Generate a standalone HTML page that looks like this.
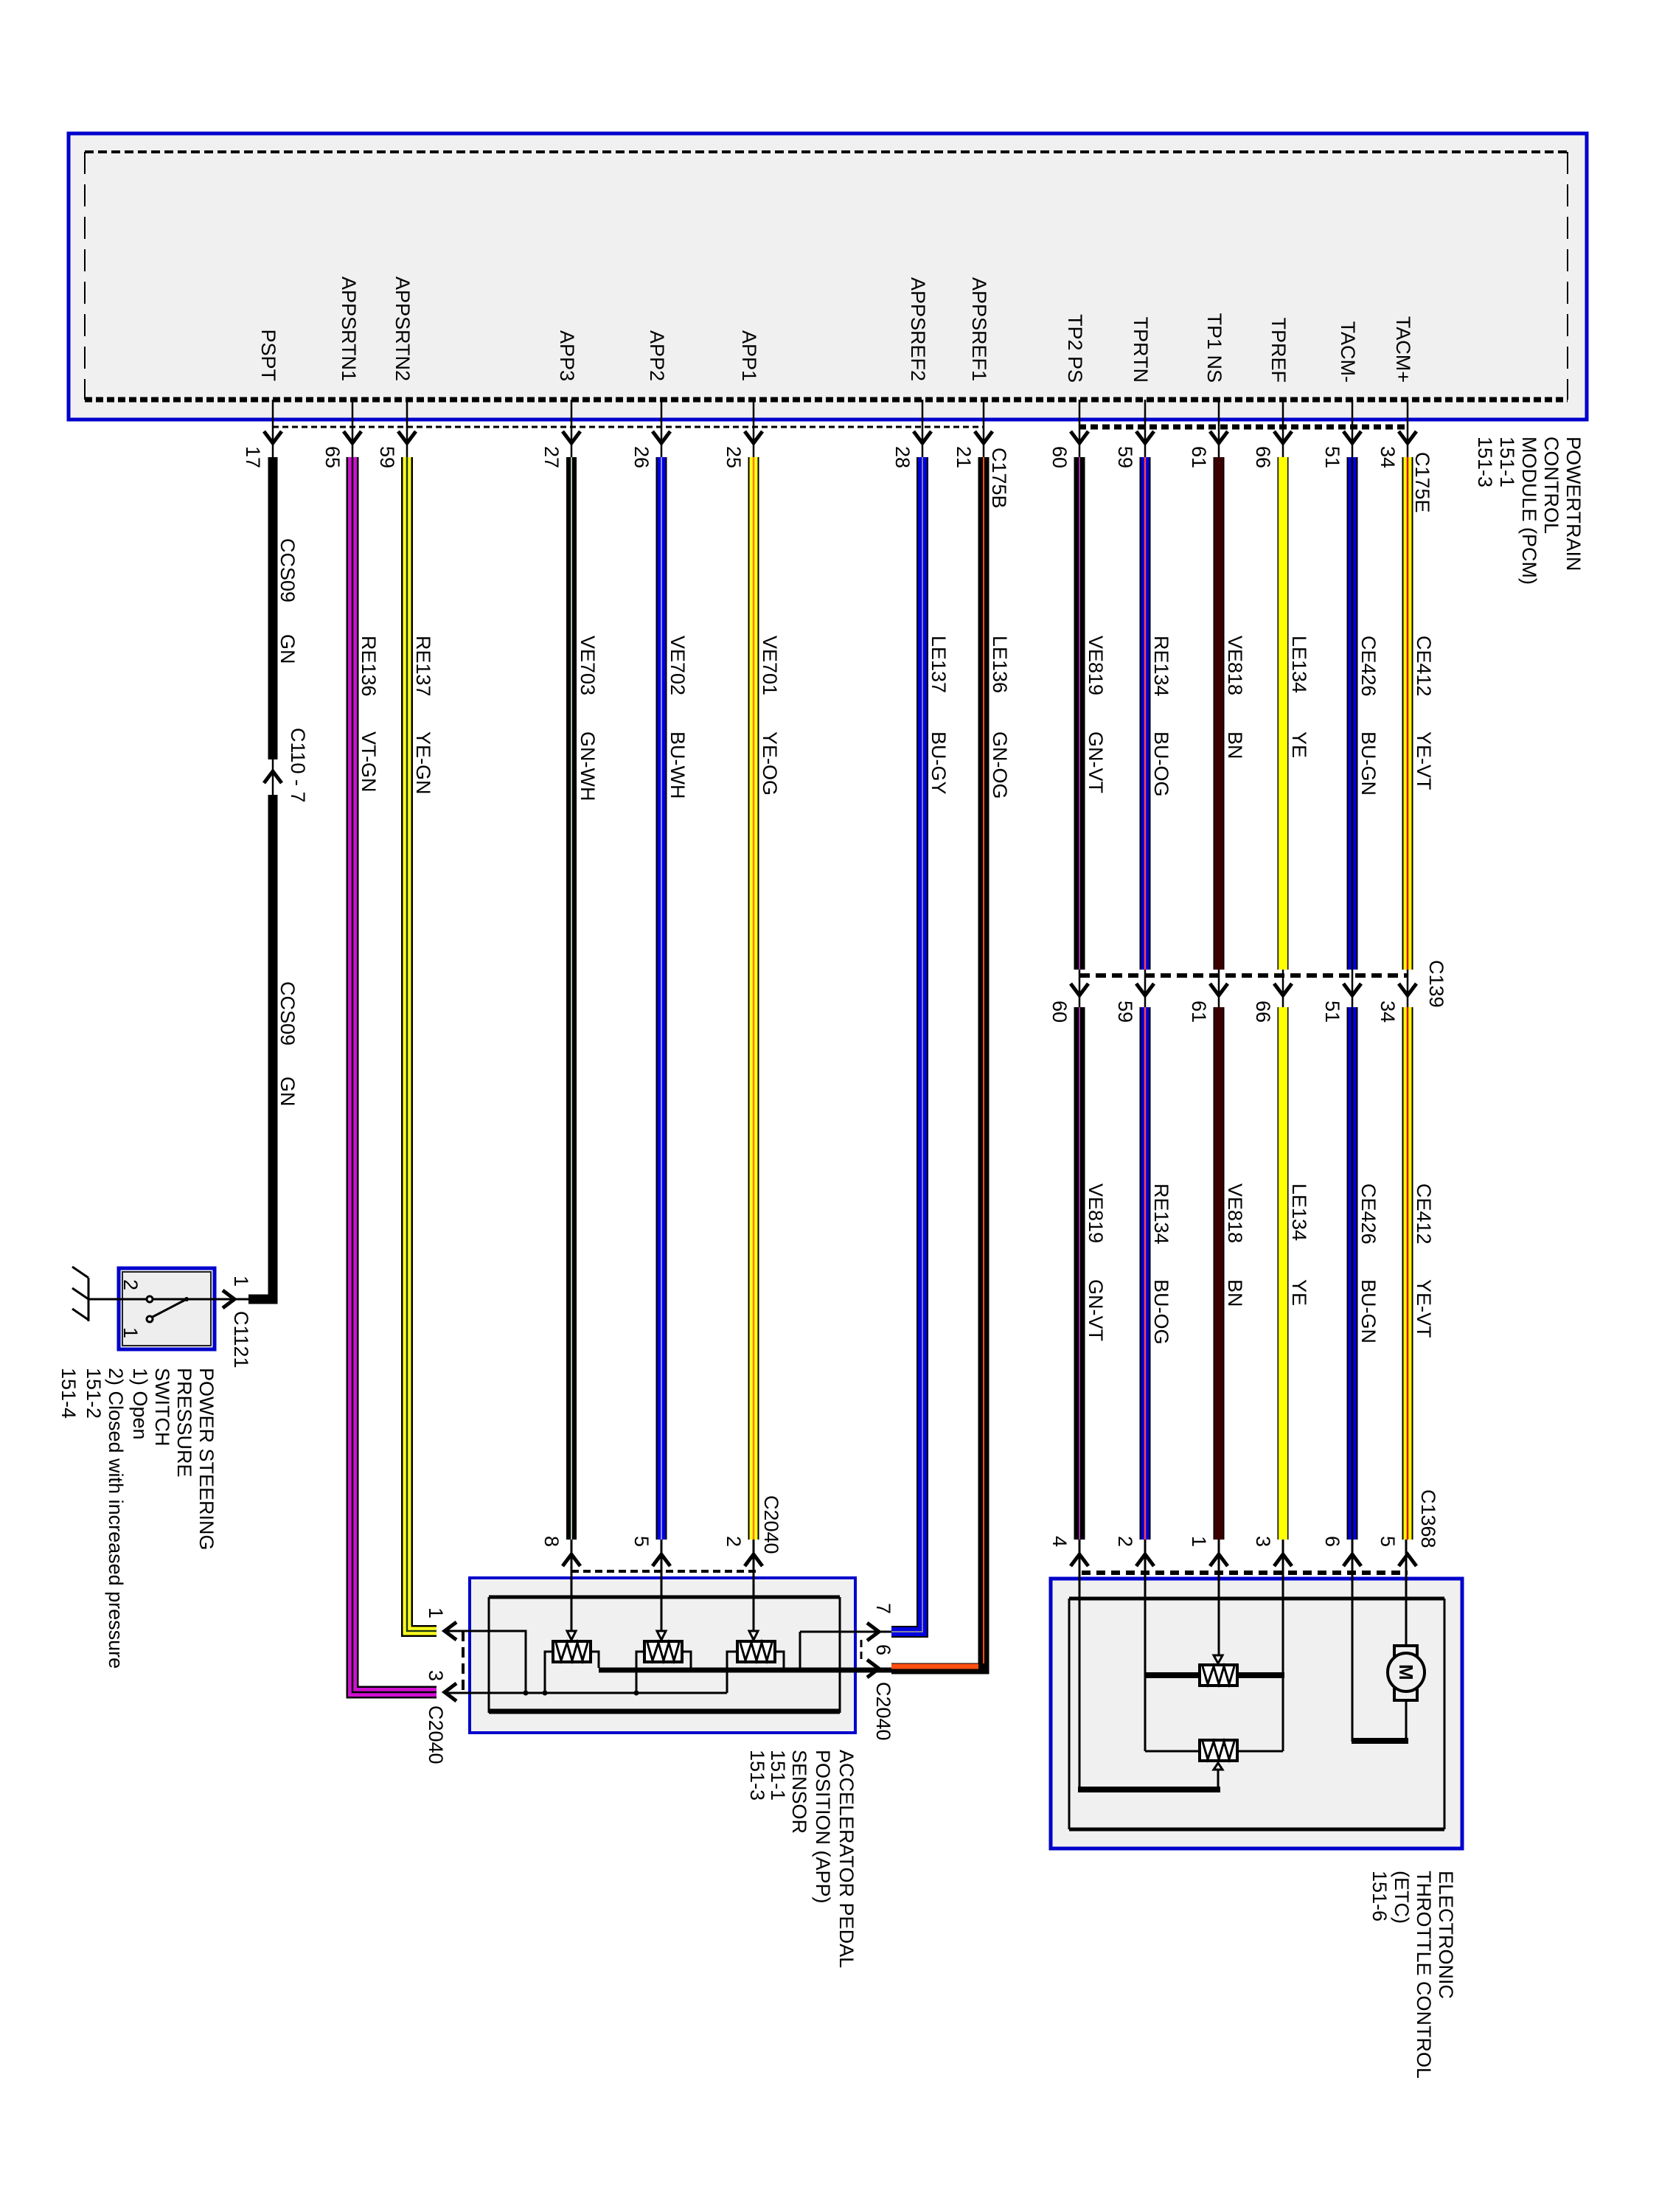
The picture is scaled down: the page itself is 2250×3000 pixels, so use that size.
<!DOCTYPE html>
<html><head><meta charset="utf-8"><style>
html,body{margin:0;padding:0;background:#fff;}
svg{display:block;}
text{font-family:"Liberation Sans",sans-serif;font-size:27px;fill:#000;}
</style></head><body>
<svg width="2250" height="3000" viewBox="0 0 2250 3000" xmlns="http://www.w3.org/2000/svg">
<defs>
<g id="ad"><path d="M-12,-16 L0,0 L12,-16" fill="none" stroke="#000" stroke-width="5"/><path d="M-7,-8 L0,1 L7,-8 L0,-4Z" fill="#000"/></g>
<g id="au"><path d="M-12,16 L0,0 L12,16" fill="none" stroke="#000" stroke-width="5"/><path d="M-7,8 L0,-1 L7,8 L0,4Z" fill="#000"/></g>
<g id="al"><path d="M16,-12 L0,0 L16,12" fill="none" stroke="#000" stroke-width="5"/><path d="M8,-7 L-1,0 L8,7 L4,0Z" fill="#000"/></g>
<g id="ar"><path d="M-16,-12 L0,0 L-16,12" fill="none" stroke="#000" stroke-width="5"/><path d="M-8,-7 L1,0 L-8,7 L-4,0Z" fill="#000"/></g>
<g id="res"><rect x="0" y="0" width="51" height="28" fill="#fff" stroke="#000" stroke-width="4"/><polyline points="4,2 11,26 19,2 26,26 33,2 40,26 47,2" fill="none" stroke="#000" stroke-width="3"/></g>
</defs>

<!-- PCM box -->
<rect x="93" y="181" width="2059" height="388" fill="#f0f0f0" stroke="#0000cc" stroke-width="5"/>
<line x1="115" y1="206" x2="2126" y2="206" stroke="#000" stroke-width="4" stroke-dasharray="12,6"/>
<line x1="115" y1="542" x2="2126" y2="542" stroke="#000" stroke-width="7" stroke-dasharray="10,5"/>
<line x1="115" y1="206" x2="115" y2="542" stroke="#000" stroke-width="2" stroke-dasharray="30,14"/>
<line x1="2126" y1="206" x2="2126" y2="542" stroke="#000" stroke-width="2" stroke-dasharray="30,14"/>

<!-- PCM pin labels -->
<g text-anchor="end">
<text transform="translate(355,517) rotate(90)">PSPT</text>
<text transform="translate(464,517) rotate(90)">APPSRTN1</text>
<text transform="translate(537,517) rotate(90)">APPSRTN2</text>
<text transform="translate(760,517) rotate(90)">APP3</text>
<text transform="translate(882,517) rotate(90)">APP2</text>
<text transform="translate(1007,517) rotate(90)">APP1</text>
<text transform="translate(1236,517) rotate(90)">APPSREF2</text>
<text transform="translate(1319,517) rotate(90)">APPSREF1</text>
<text transform="translate(1449,519) rotate(90)">TP2 PS</text>
<text transform="translate(1538,519) rotate(90)">TPRTN</text>
<text transform="translate(1638,519) rotate(90)">TP1 NS</text>
<text transform="translate(1725,519) rotate(90)">TPREF</text>
<text transform="translate(1819,519) rotate(90)">TACM-</text>
<text transform="translate(1894,519) rotate(90)">TACM+</text>
</g>

<!-- PCM pin thin lines -->
<g stroke="#000" stroke-width="2.5">
<path d="M370 542V620M478 542V620M552 542V620M775 542V620M897 542V620M1022 542V620M1251 542V620M1334 542V620M1464 542V620M1553 542V620M1653 542V620M1740 542V620M1834 542V620M1909 542V620"/>
<path d="M1464 1315V1366M1553 1315V1366M1653 1315V1366M1740 1315V1366M1834 1315V1366M1909 1315V1366"/>
<path d="M370 1030V1078"/>
</g>
<line x1="370" y1="579" x2="1334" y2="579" stroke="#000" stroke-width="3" stroke-dasharray="8,5"/>
<line x1="1463" y1="579" x2="1909" y2="579" stroke="#000" stroke-width="7" stroke-dasharray="10,6"/>
<line x1="1464" y1="1323" x2="1909" y2="1323" stroke="#000" stroke-width="6" stroke-dasharray="14,8"/>
<line x1="1467" y1="2133" x2="1909" y2="2133" stroke="#000" stroke-width="6" stroke-dasharray="12,8"/>
<line x1="775" y1="2131" x2="1025" y2="2131" stroke="#000" stroke-width="4" stroke-dasharray="10,6"/>

<!-- PCM arrows -->
<use href="#ad" x="370" y="601"/><use href="#ad" x="478" y="601"/><use href="#ad" x="552" y="601"/>
<use href="#ad" x="775" y="601"/><use href="#ad" x="897" y="601"/><use href="#ad" x="1022" y="601"/>
<use href="#ad" x="1251" y="601"/><use href="#ad" x="1334" y="601"/><use href="#ad" x="1464" y="601"/>
<use href="#ad" x="1553" y="601"/><use href="#ad" x="1653" y="601"/><use href="#ad" x="1740" y="601"/>
<use href="#ad" x="1834" y="601"/><use href="#ad" x="1909" y="601"/>
<!-- C139 arrows -->
<use href="#ad" x="1464" y="1350"/><use href="#ad" x="1553" y="1350"/><use href="#ad" x="1653" y="1350"/>
<use href="#ad" x="1740" y="1350"/><use href="#ad" x="1834" y="1350"/><use href="#ad" x="1909" y="1350"/>
<!-- C110-7 -->
<use href="#au" x="370" y="1046"/>

<!-- PCM pin numbers -->
<g>
<text transform="translate(334,605) rotate(90)">17</text>
<text transform="translate(442,605) rotate(90)">65</text>
<text transform="translate(516,605) rotate(90)">59</text>
<text transform="translate(739,605) rotate(90)">27</text>
<text transform="translate(861,605) rotate(90)">26</text>
<text transform="translate(986,605) rotate(90)">25</text>
<text transform="translate(1215,605) rotate(90)">28</text>
<text transform="translate(1298,605) rotate(90)">21</text>
<text transform="translate(1428,605) rotate(90)">60</text>
<text transform="translate(1517,605) rotate(90)">59</text>
<text transform="translate(1617,605) rotate(90)">61</text>
<text transform="translate(1704,605) rotate(90)">66</text>
<text transform="translate(1798,605) rotate(90)">51</text>
<text transform="translate(1873,605) rotate(90)">34</text>
<text transform="translate(1346,607) rotate(90)">C175B</text>
<text transform="translate(1920,613) rotate(90)">C175E</text>
<!-- C139 pin numbers -->
<text transform="translate(1428,1357) rotate(90)">60</text>
<text transform="translate(1517,1357) rotate(90)">59</text>
<text transform="translate(1617,1357) rotate(90)">61</text>
<text transform="translate(1704,1357) rotate(90)">66</text>
<text transform="translate(1798,1357) rotate(90)">51</text>
<text transform="translate(1873,1357) rotate(90)">34</text>
<text transform="translate(1939,1302) rotate(90)">C139</text>
<text transform="translate(395,987) rotate(90)">C110 - 7</text>
</g>

<!-- PCM label -->
<text transform="translate(2125,592) rotate(90)">POWERTRAIN</text>
<text transform="translate(2095,592) rotate(90)">CONTROL</text>
<text transform="translate(2065,592) rotate(90)">MODULE (PCM)</text>
<text transform="translate(2035,592) rotate(90)">151-1</text>
<text transform="translate(2005,592) rotate(90)">151-3</text>

<!-- wires -->
<g fill="none" stroke-linejoin="miter">
<path d="M370 620V1030M370 1078V1762H337" stroke="#000" stroke-width="13"/>
<!-- APPSRTN1 -->
<path d="M478 620V2295H592" stroke="#000" stroke-width="17"/>
<path d="M478 620V2295H592" stroke="#d010d0" stroke-width="12"/>
<path d="M478 620V2295H592" stroke="#000" stroke-width="2.5"/>
<!-- APPSRTN2 -->
<path d="M552 620V2212H592" stroke="#000" stroke-width="16"/>
<path d="M552 620V2212H592" stroke="#ffff20" stroke-width="11"/>
<path d="M552 620V2212H592" stroke="#203a10" stroke-width="2.5"/>
<!-- APP3 -->
<path d="M775 620V2088" stroke="#000" stroke-width="14"/>
<path d="M775 620V2088" stroke="#dfffdf" stroke-width="1.5"/>
<!-- APP2 -->
<path d="M897 620V2088" stroke="#000" stroke-width="15"/>
<path d="M897 620V2088" stroke="#0000e0" stroke-width="11"/>
<path d="M897 620V2088" stroke="#c0c0ff" stroke-width="1.5"/>
<!-- APP1 -->
<path d="M1022 620V2088" stroke="#000" stroke-width="15"/>
<path d="M1022 620V2088" stroke="#ffff20" stroke-width="11"/>
<path d="M1022 620V2088" stroke="#ff8000" stroke-width="2.5"/>
<!-- APPSREF2 -->
<path d="M1251 620V2213H1209" stroke="#000" stroke-width="16"/>
<path d="M1251 620V2213H1209" stroke="#0000e0" stroke-width="12"/>
<path d="M1251 620V2213H1209" stroke="#8080a0" stroke-width="2"/>
<!-- APPSREF1 -->
<path d="M1334 620V2263H1209" stroke="#000" stroke-width="15"/>
<path d="M1334 620V2256" stroke="#ff5010" stroke-width="2"/>
<path d="M1209 2260H1327" stroke="#ff5010" stroke-width="7"/>
<!-- right group -->
<path d="M1464 620V1315M1464 1366V2088" stroke="#000" stroke-width="15"/>
<path d="M1464 620V1315M1464 1366V2088" stroke="#a030a0" stroke-width="2"/>
<path d="M1553 620V1315M1553 1366V2088" stroke="#000" stroke-width="15"/>
<path d="M1553 620V1315M1553 1366V2088" stroke="#0000e0" stroke-width="11"/>
<path d="M1553 620V1315M1553 1366V2088" stroke="#ff4040" stroke-width="2.5"/>
<path d="M1653 620V1315M1653 1366V2088" stroke="#000" stroke-width="15"/>
<path d="M1653 620V1315M1653 1366V2088" stroke="#3a0000" stroke-width="12"/>
<path d="M1740 620V1315M1740 1366V2088" stroke="#000" stroke-width="15"/>
<path d="M1740 620V1315M1740 1366V2088" stroke="#ffff00" stroke-width="12"/>
<path d="M1834 620V1315M1834 1366V2088" stroke="#000" stroke-width="15"/>
<path d="M1834 620V1315M1834 1366V2088" stroke="#0000e0" stroke-width="11"/>
<path d="M1834 620V1315M1834 1366V2088" stroke="#000" stroke-width="2.5"/>
<path d="M1909 620V1315M1909 1366V2088" stroke="#000" stroke-width="15"/>
<path d="M1909 620V1315M1909 1366V2088" stroke="#ffff00" stroke-width="11"/>
<path d="M1909 620V1315M1909 1366V2088" stroke="#e00000" stroke-width="2.5"/>
</g>

<!-- wire labels upper -->
<g>
<text transform="translate(381,730) rotate(90)">CCS09</text>
<text transform="translate(381,860) rotate(90)">GN</text>
<text transform="translate(381,1331) rotate(90)">CCS09</text>
<text transform="translate(381,1460) rotate(90)">GN</text>
<text transform="translate(491,862) rotate(90)">RE136</text>
<text transform="translate(491,992) rotate(90)">VT-GN</text>
<text transform="translate(565,862) rotate(90)">RE137</text>
<text transform="translate(565,992) rotate(90)">YE-GN</text>
<text transform="translate(788,862) rotate(90)">VE703</text>
<text transform="translate(788,992) rotate(90)">GN-WH</text>
<text transform="translate(910,862) rotate(90)">VE702</text>
<text transform="translate(910,992) rotate(90)">BU-WH</text>
<text transform="translate(1035,862) rotate(90)">VE701</text>
<text transform="translate(1035,992) rotate(90)">YE-OG</text>
<text transform="translate(1264,862) rotate(90)">LE137</text>
<text transform="translate(1264,992) rotate(90)">BU-GY</text>
<text transform="translate(1347,862) rotate(90)">LE136</text>
<text transform="translate(1347,992) rotate(90)">GN-OG</text>
<text transform="translate(1477,862) rotate(90)">VE819</text>
<text transform="translate(1477,992) rotate(90)">GN-VT</text>
<text transform="translate(1566,862) rotate(90)">RE134</text>
<text transform="translate(1566,992) rotate(90)">BU-OG</text>
<text transform="translate(1666,862) rotate(90)">VE818</text>
<text transform="translate(1666,992) rotate(90)">BN</text>
<text transform="translate(1753,862) rotate(90)">LE134</text>
<text transform="translate(1753,992) rotate(90)">YE</text>
<text transform="translate(1847,862) rotate(90)">CE426</text>
<text transform="translate(1847,992) rotate(90)">BU-GN</text>
<text transform="translate(1922,862) rotate(90)">CE412</text>
<text transform="translate(1922,992) rotate(90)">YE-VT</text>
<!-- lower -->
<text transform="translate(1477,1605) rotate(90)">VE819</text>
<text transform="translate(1477,1735) rotate(90)">GN-VT</text>
<text transform="translate(1566,1605) rotate(90)">RE134</text>
<text transform="translate(1566,1735) rotate(90)">BU-OG</text>
<text transform="translate(1666,1605) rotate(90)">VE818</text>
<text transform="translate(1666,1735) rotate(90)">BN</text>
<text transform="translate(1753,1605) rotate(90)">LE134</text>
<text transform="translate(1753,1735) rotate(90)">YE</text>
<text transform="translate(1847,1605) rotate(90)">CE426</text>
<text transform="translate(1847,1735) rotate(90)">BU-GN</text>
<text transform="translate(1922,1605) rotate(90)">CE412</text>
<text transform="translate(1922,1735) rotate(90)">YE-VT</text>
</g>

<!-- ETC box -->
<rect x="1425" y="2141" width="558" height="366" fill="#f0f0f0" stroke="#0000cc" stroke-width="5"/>
<g fill="none" stroke="#000">
<path d="M1450 2168H1959M1450 2481H1959" stroke-width="5"/>
<path d="M1450 2168V2481M1959 2168V2481" stroke-width="3"/>
<path d="M1464 2088V2429M1553 2088V2375M1740 2088V2375M1834 2088V2362M1907 2088V2232M1907 2306V2362M1653 2088V2246M1652 2400V2429" stroke-width="3"/>
<path d="M1553 2375H1740" stroke-width="3"/>
<path d="M1553 2272H1742M1833 2361H1910M1462 2427H1655" stroke-width="8"/>
</g>
<use href="#res" x="1627" y="2258"/>
<use href="#res" x="1627" y="2360"/>
<path d="M1646 2245H1658L1652 2256Z" fill="#fff" stroke="#000" stroke-width="3"/>
<path d="M1646 2400H1658L1652 2391Z" fill="#fff" stroke="#000" stroke-width="3"/>
<rect x="1891" y="2232" width="31" height="74" fill="#f0f0f0" stroke="#000" stroke-width="4"/>
<ellipse cx="1907" cy="2268" rx="25" ry="26" fill="#f0f0f0" stroke="#000" stroke-width="4"/>
<text transform="translate(1898,2257) rotate(90)" style="font-size:26px;font-weight:bold">M</text>
<!-- ETC arrows -->
<use href="#au" x="1464" y="2108"/><use href="#au" x="1553" y="2108"/><use href="#au" x="1653" y="2108"/>
<use href="#au" x="1740" y="2108"/><use href="#au" x="1834" y="2108"/><use href="#au" x="1909" y="2108"/>
<text transform="translate(1428,2083) rotate(90)">4</text>
<text transform="translate(1517,2083) rotate(90)">2</text>
<text transform="translate(1617,2083) rotate(90)">1</text>
<text transform="translate(1704,2083) rotate(90)">3</text>
<text transform="translate(1798,2083) rotate(90)">6</text>
<text transform="translate(1873,2083) rotate(90)">5</text>
<text transform="translate(1928,2020) rotate(90)">C1368</text>
<text transform="translate(1952,2537) rotate(90)">ELECTRONIC</text>
<text transform="translate(1922,2537) rotate(90)">THROTTLE CONTROL</text>
<text transform="translate(1892,2537) rotate(90)">(ETC)</text>
<text transform="translate(1862,2537) rotate(90)">151-6</text>

<!-- APP box -->
<rect x="637" y="2140" width="523" height="210" fill="#f0f0f0" stroke="#0000cc" stroke-width="4"/>
<g fill="none" stroke="#000">
<path d="M663 2166H1139" stroke-width="5"/>
<path d="M663 2321H1139" stroke-width="7"/>
<path d="M663 2166V2323M1139 2166V2323" stroke-width="3"/>
<path d="M775 2088V2213M897 2088V2213M1022 2088V2213" stroke-width="3"/>
<path d="M750 2240H739V2296M800 2240H812V2262M874 2240H863V2296M925 2240H937V2268M1000 2240H986V2296M1051 2240H1063V2268" stroke-width="3"/>
<path d="M812 2265H1209" stroke-width="7"/>
<path d="M603 2296H986" stroke-width="3"/>
<path d="M1085 2213H1209M1085 2213V2268" stroke-width="3"/>
<path d="M603 2212H713V2296" stroke-width="3"/>
<path d="M628 2212V2295" stroke-width="4" stroke-dasharray="14,8"/>
<path d="M1168 2224V2256" stroke-width="3" stroke-dasharray="10,6"/>
</g>
<g fill="#000"><circle cx="713" cy="2296" r="3.5"/><circle cx="739" cy="2296" r="3.5"/><circle cx="863" cy="2296" r="3.5"/><circle cx="937" cy="2265" r="3"/><circle cx="1063" cy="2265" r="3"/><circle cx="1085" cy="2265" r="3"/></g>
<use href="#res" x="750" y="2226"/><use href="#res" x="874" y="2226"/><use href="#res" x="1000" y="2226"/>
<path d="M769 2212H781L775 2224Z" fill="#fff" stroke="#000" stroke-width="3"/>
<path d="M891 2212H903L897 2224Z" fill="#fff" stroke="#000" stroke-width="3"/>
<path d="M1016 2212H1028L1022 2224Z" fill="#fff" stroke="#000" stroke-width="3"/>
<use href="#au" x="775" y="2108"/><use href="#au" x="897" y="2108"/><use href="#au" x="1022" y="2108"/>
<use href="#al" x="603" y="2212"/><use href="#al" x="603" y="2295"/>
<use href="#ar" x="1192" y="2213"/><use href="#ar" x="1192" y="2263"/>
<text transform="translate(739,2083) rotate(90)">8</text>
<text transform="translate(861,2083) rotate(90)">5</text>
<text transform="translate(986,2083) rotate(90)">2</text>
<text transform="translate(1037,2028) rotate(90)">C2040</text>
<text transform="translate(582,2180) rotate(90)">1</text>
<text transform="translate(582,2265) rotate(90)">3</text>
<text transform="translate(582,2313) rotate(90)">C2040</text>
<text transform="translate(1189,2174) rotate(90)">7</text>
<text transform="translate(1189,2230) rotate(90)">6</text>
<text transform="translate(1189,2281) rotate(90)">C2040</text>
<text transform="translate(1139,2373) rotate(90)">ACCELERATOR PEDAL</text>
<text transform="translate(1107,2373) rotate(90)">POSITION (APP)</text>
<text transform="translate(1075,2373) rotate(90)">SENSOR</text>
<text transform="translate(1046,2373) rotate(90)">151-1</text>
<text transform="translate(1018,2373) rotate(90)">151-3</text>

<!-- Switch -->
<rect x="161" y="1720" width="130" height="110" fill="#eeeeee" stroke="#0000cc" stroke-width="5"/>
<rect x="166" y="1725" width="120" height="100" fill="none" stroke="#222" stroke-width="2"/>
<g fill="none" stroke="#000" stroke-width="3">
<path d="M120 1762H199M207 1762H337"/>
<path d="M253 1762L205 1787"/>
<path d="M120 1733V1792M98 1718L120 1733M98 1747L120 1762M98 1775L120 1790"/>
</g>
<circle cx="203" cy="1762" r="4" fill="#fff" stroke="#000" stroke-width="3"/>
<circle cx="203" cy="1789" r="4" fill="#fff" stroke="#000" stroke-width="3"/>
<circle cx="253" cy="1762" r="3" fill="#000"/>
<use href="#ar" x="318" y="1762"/>
<text transform="translate(168,1735) rotate(90)">2</text>
<text transform="translate(168,1800) rotate(90)">1</text>
<text transform="translate(318,1730) rotate(90)">1</text>
<text transform="translate(318,1778) rotate(90)">C1121</text>
<text transform="translate(271,1855) rotate(90)">POWER STEERING</text>
<text transform="translate(241,1855) rotate(90)">PRESSURE</text>
<text transform="translate(211,1855) rotate(90)">SWITCH</text>
<text transform="translate(181,1855) rotate(90)">1) Open</text>
<text transform="translate(148,1855) rotate(90)">2) Closed with increased pressure</text>
<text transform="translate(118,1855) rotate(90)">151-2</text>
<text transform="translate(84,1855) rotate(90)">151-4</text>
</svg>
</body></html>
